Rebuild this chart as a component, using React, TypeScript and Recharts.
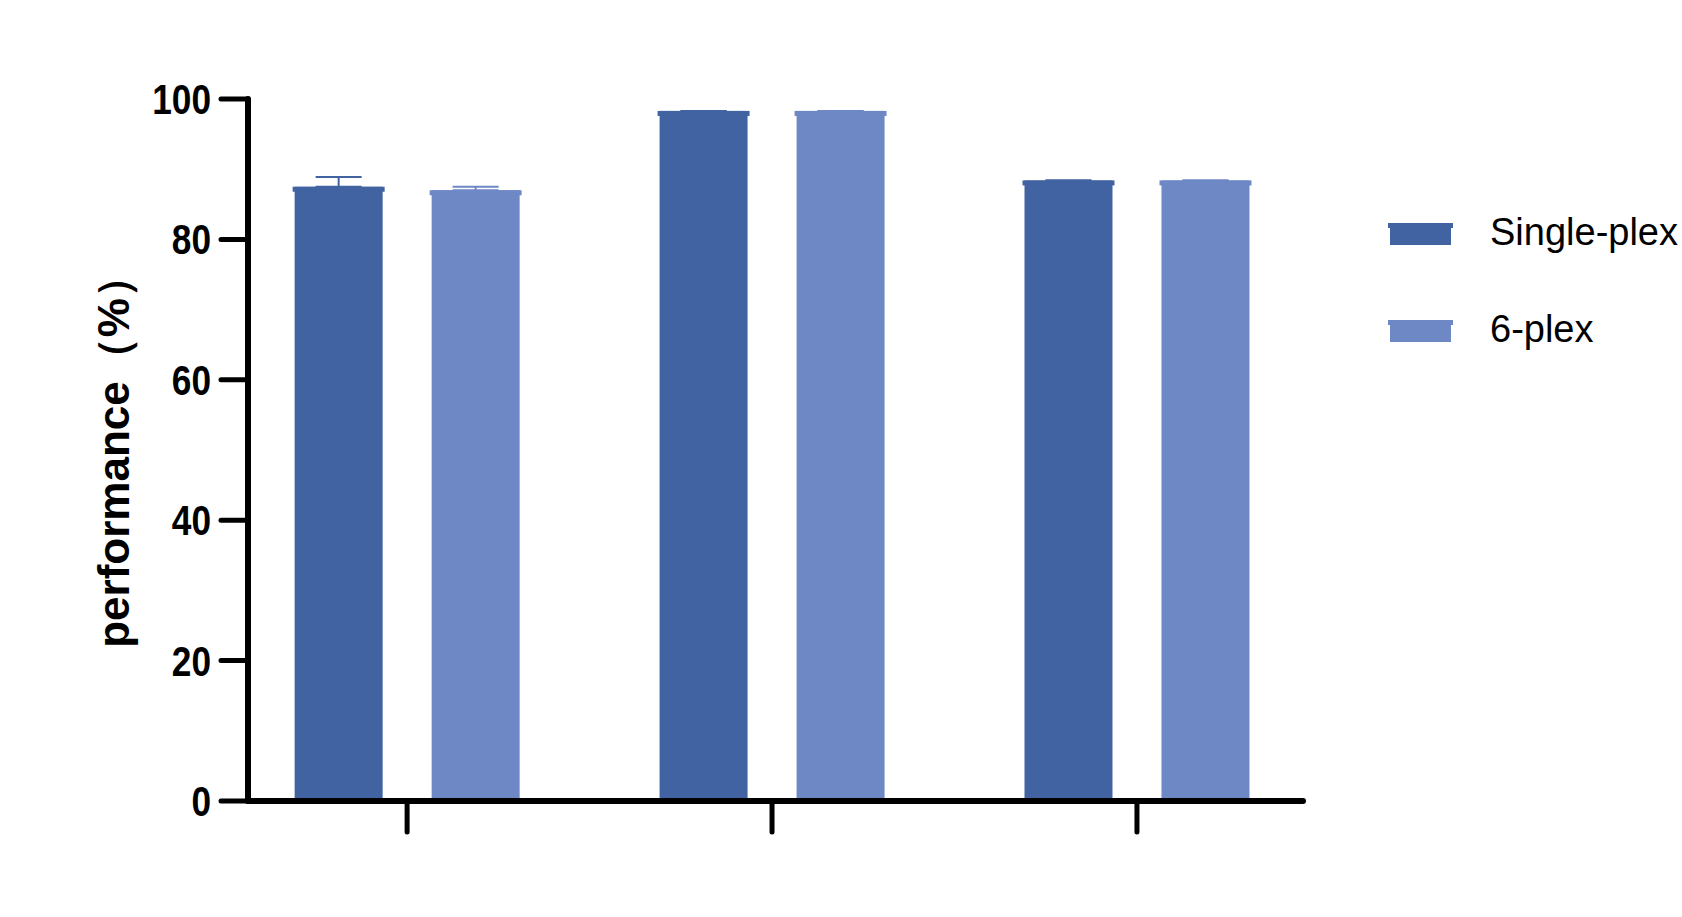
import React from 'react';
import { BarChart, Bar, XAxis, YAxis, ErrorBar, Legend } from 'recharts';

// Data (three unlabeled groups)
const groups = [0, 1, 2];
const singlePlex = [87.5, 98.3, 88.4];
const singlePlexSD = [1.4, 0, 0];
const sixPlex = [87.0, 98.3, 88.4];
const sixPlexSD = [0.5, 0, 0];
const yTicks = [0, 20, 40, 60, 80, 100];
const seriesNames = ['Single-plex', '6-plex'];
const colors = ['#4263A1', '#6E88C6'];
const yLabel = 'performance（%）';

const data = groups.map((g, i) => ({
  x: g,
  single: singlePlex[i],
  singleErr: [0, singlePlexSD[i]],
  six: sixPlex[i],
  sixErr: [0, sixPlexSD[i]],
}));

const FONT = '"Liberation Sans", Arial, Helvetica, sans-serif';

const BarShape = (props: any) => {
  const { x, y, width, height, fill } = props;
  if (!height || height <= 0) return null;
  return (
    <g>
      <rect x={x + 2} y={y} width={width - 4} height={height} fill={fill} />
      <rect x={x} y={y} width={width} height={5} fill={fill} />
    </g>
  );
};

const YTick = (props: any) => {
  const { x, y, payload } = props;
  return (
    <g transform={`translate(${x},${y})`}>
      <text
        transform="scale(0.82,1)"
        x={0}
        y={0}
        dy={15}
        textAnchor="end"
        fontFamily={FONT}
        fontWeight="bold"
        fontSize={43}
        fill="#000"
      >
        {payload.value}
      </text>
    </g>
  );
};

const YLabel = (props: any) => {
  const vb = props.viewBox || { x: 148, y: 99, width: 100, height: 702 };
  const cx = vb.x + vb.width - 135;
  const cy = vb.y + vb.height / 2 + 1;
  return (
    <text
      x={cx}
      y={cy}
      transform={`rotate(-90, ${cx}, ${cy})`}
      textAnchor="middle"
      dominantBaseline="central"
      fontFamily={FONT}
      fontWeight="bold"
      fontSize={44}
      fill="#000"
    >
      {yLabel}
    </text>
  );
};

const LegendContent = () => (
  <svg width={300} height={140} style={{ overflow: 'visible' }}>
    {seriesNames.map((name, i) => (
      <g key={name} transform={`translate(0, ${i * 97})`}>
        <rect x={2} y={0} width={61} height={22} fill={colors[i]} />
        <rect x={0} y={0} width={65} height={5} fill={colors[i]} />
        <text x={102} y={22} fontFamily={FONT} fontSize={38} fill="#000">
          {name}
        </text>
      </g>
    ))}
  </svg>
);

export default function App() {
  return (
    <div style={{ position: 'absolute', left: 0, top: 0, width: 1682, height: 917, background: '#fff' }}>
      <BarChart
        width={1682}
        height={917}
        data={data}
        margin={{ top: 99, right: 379, bottom: 76, left: 148 }}
        barSize={92}
        barGap={45}
      >
        <XAxis
          type="number"
          dataKey="x"
          domain={[-0.436, 2.455]}
          ticks={groups}
          allowDataOverflow
          height={40}
          tickSize={31}
          tickFormatter={() => ''}
          axisLine={{ stroke: '#000', strokeWidth: 6, strokeLinecap: 'round' }}
          tickLine={{ stroke: '#000', strokeWidth: 5, strokeLinecap: 'round' }}
        />
        <YAxis
          type="number"
          domain={[0, 100]}
          ticks={yTicks}
          width={100}
          tickSize={27}
          tickMargin={10}
          tick={<YTick />}
          axisLine={{ stroke: '#000', strokeWidth: 6, strokeLinecap: 'round' }}
          tickLine={{ stroke: '#000', strokeWidth: 5, strokeLinecap: 'round' }}
          label={<YLabel />}
        />
        <Legend
          layout="horizontal"
          verticalAlign="middle"
          align="center"
          content={<LegendContent />}
          wrapperStyle={{ position: 'absolute', left: 1388, top: 223, width: 300, height: 140 }}
        />
        <Bar dataKey="single" name={seriesNames[0]} fill={colors[0]} shape={<BarShape />} isAnimationActive={false}>
          <ErrorBar dataKey="singleErr" width={23} strokeWidth={2} stroke={colors[0]} direction="y" />
        </Bar>
        <Bar dataKey="six" name={seriesNames[1]} fill={colors[1]} shape={<BarShape />} isAnimationActive={false}>
          <ErrorBar dataKey="sixErr" width={23} strokeWidth={2} stroke={colors[1]} direction="y" />
        </Bar>
      </BarChart>
    </div>
  );
}
